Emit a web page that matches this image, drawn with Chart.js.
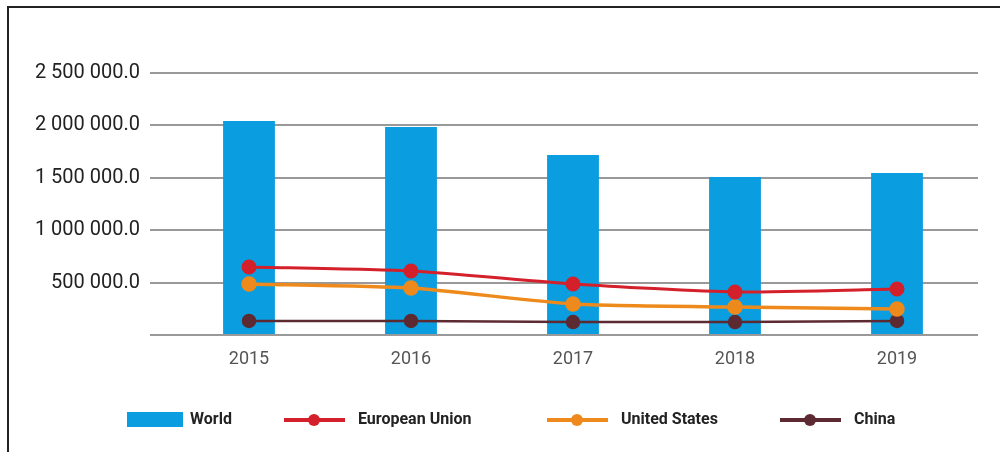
<!DOCTYPE html>
<html>
<head>
<meta charset="utf-8">
<script src="https://cdn.jsdelivr.net/npm/chart.js@4.4.1/dist/chart.umd.min.js"></script>
<style>
  html, body { margin: 0; padding: 0; background: #fff; overflow: hidden; }
  #frame {
    position: absolute; left: 7px; top: 6px; width: 1010px; height: 470px;
    border-left: 2px solid #222; border-top: 2px solid #222;
  }
  #c { position: absolute; left: 0; top: 0; }
</style>
</head>
<body>
<div id="frame"></div>
<canvas id="c" width="1000" height="452"></canvas>
<script>
// ---------- DATA ----------
const years = ['2015', '2016', '2017', '2018', '2019'];
const world = [2042000, 1985000, 1718000, 1508000, 1546000];
const eu = [649000, 611000, 487000, 410000, 439000];
const us = [487000, 448000, 296000, 267000, 248000];
const china = [134000, 134000, 124000, 124000, 134000];

// ---------- Utilities ----------
const fmtTick = (v) => {
  if (v === 0) return '';
  const s = Math.round(v).toString().replace(/\B(?=(\d{3})+(?!\d))/g, ' ');
  return s + '.0';
};

// legend drawn by hand: bar swatch or line+dot swatch
const legendX = [127, 284, 547, 780];
const legendPlugin = {
  id: 'customLegend',
  afterDraw(chart) {
    const ctx = chart.ctx;
    const y = 420;
    ctx.save();
    ctx.font = 'bold 16px Roboto';
    ctx.textBaseline = 'middle';
    ctx.fillStyle = '#222';
    chart.data.datasets.forEach((ds, i) => {
      const x = legendX[i];
      let tx;
      if (ds.type === 'bar') {
        ctx.fillStyle = ds.backgroundColor;
        ctx.fillRect(x, y - 8, 56, 15);
        tx = x + 63;
      } else {
        ctx.strokeStyle = ds.borderColor;
        ctx.lineWidth = 4;
        ctx.beginPath();
        ctx.moveTo(x, y);
        ctx.lineTo(x + 61, y);
        ctx.stroke();
        ctx.fillStyle = ds.pointBackgroundColor;
        ctx.beginPath();
        ctx.arc(x + 30, y, 6, 0, Math.PI * 2);
        ctx.fill();
        tx = x + 74;
      }
      ctx.fillStyle = '#222';
      ctx.fillText(ds.label, tx, y);
    });
    ctx.restore();
  }
};

const lineDs = (label, data, color, width) => ({
  type: 'line', label, data,
  borderColor: color, backgroundColor: color,
  pointBackgroundColor: color, pointBorderColor: color,
  borderWidth: width, pointRadius: 6, pointHoverRadius: 6,
  tension: 0.2, fill: false, order: 1
});

new Chart(document.getElementById('c').getContext('2d'), {
  data: {
    labels: years,
    datasets: [
      { type: 'bar', label: 'World', data: world, backgroundColor: '#0A9DE0',
        barPercentage: 0.64, categoryPercentage: 0.5, order: 2 },
      lineDs('European Union', eu, '#D4202A', 3),
      lineDs('United States', us, '#EE8A1C', 3.5),
      lineDs('China', china, '#5E2A32', 2.5)
    ]
  },
  options: {
    responsive: false,
    animation: false,
    layout: { padding: { top: 73, right: 22, left: 0, bottom: 0 } },
    plugins: { legend: { display: false }, tooltip: { enabled: false } },
    scales: {
      x: {
        grid: { display: false, drawTicks: false },
        border: { display: false },
        ticks: { color: '#555', font: { family: 'Roboto', size: 18 }, padding: 14 },
        afterFit: (s) => { s.height = 117; }
      },
      y: {
        min: 0, max: 2500000,
        ticks: { stepSize: 500000, color: '#222', font: { family: 'Roboto', size: 20 }, padding: 10, callback: fmtTick },
        grid: { color: '#999', lineWidth: 2, tickLength: 18, tickColor: '#999' },
        border: { display: false },
        afterFit: (s) => { s.width = 168; }
      }
    }
  },
  plugins: [legendPlugin]
});
</script>
</body>
</html>
